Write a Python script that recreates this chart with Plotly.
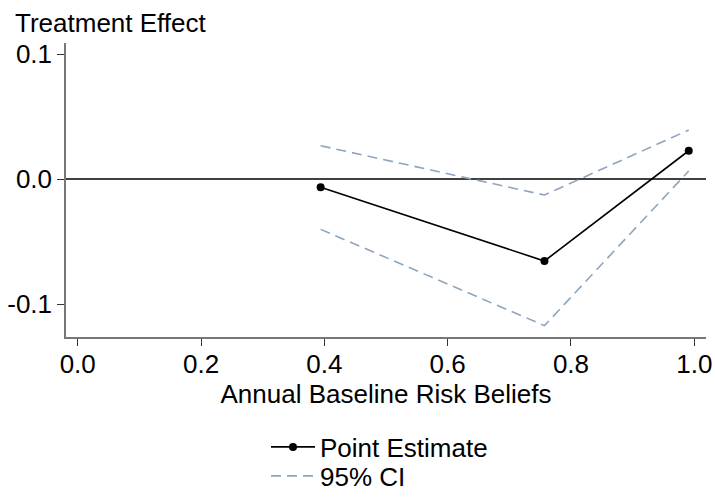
import plotly.graph_objects as go

x_vals = [0.394, 0.757, 0.991]
point_est = [-0.0066, -0.0656, 0.0226]
ci_upper = [0.0266, -0.0128, 0.0392]
ci_lower = [-0.0403, -0.1173, 0.0064]

x_ticks = [0.0, 0.2, 0.4, 0.6, 0.8, 1.0]
x_ticklabels = ["0.0", "0.2", "0.4", "0.6", "0.8", "1.0"]
y_ticks = [-0.1, 0.0, 0.1]
y_ticklabels = ["-0.1", "0.0", "0.1"]

FONT = "Liberation Sans, Arial, sans-serif"
FS = 26
CI_COLOR = "#8ea5bd"

fig = go.Figure()
fig.add_trace(go.Scatter(
    x=x_vals, y=point_est, mode="lines+markers", name="Point Estimate",
    line=dict(color="black", width=1.6), marker=dict(color="black", size=8),
    legend="legend",
))
fig.add_trace(go.Scatter(
    x=x_vals, y=ci_upper, mode="lines", name="95% CI",
    line=dict(color=CI_COLOR, width=1.6, dash="10px,6px"),
    legend="legend2",
))
fig.add_trace(go.Scatter(
    x=x_vals, y=ci_lower, mode="lines", name="95% CI", showlegend=False,
    line=dict(color=CI_COLOR, width=1.6, dash="10px,6px"),
    legend="legend2",
))

fig.add_hline(y=0, line=dict(color="black", width=1.6), layer="below")

legend_common = dict(xref="container", yref="container", xanchor="left", yanchor="middle",
                     font=dict(size=FS), bgcolor="rgba(0,0,0,0)", itemwidth=44)

fig.update_layout(
    width=715, height=498,
    margin=dict(l=66, r=9, t=43, b=161, autoexpand=False),
    paper_bgcolor="white", plot_bgcolor="white",
    font=dict(family=FONT, size=FS, color="black"),
    showlegend=True,
    legend=dict(x=266 / 715, y=1 - 447 / 498, **legend_common),
    legend2=dict(x=266 / 715, y=1 - 476 / 498, **legend_common),
    xaxis=dict(range=[-0.019, 1.019], tickvals=x_ticks, ticktext=x_ticklabels,
               showgrid=False, zeroline=False, showline=True, linecolor="#777777",
               linewidth=1.5, ticks="outside", ticklen=7, tickcolor="#333333",
               tickfont=dict(size=FS), automargin=False, ticklabelstandoff=-4,
               title=dict(text="Annual Baseline Risk Beliefs", font=dict(size=FS), standoff=5)),
    yaxis=dict(range=[-0.1264, 0.1088], tickvals=y_ticks, ticktext=y_ticklabels,
               showgrid=False, zeroline=False, showline=True, linecolor="#777777",
               linewidth=1.5, ticks="outside", ticklen=7, tickcolor="#333333",
               tickfont=dict(size=FS), automargin=False),
    annotations=[dict(text="Treatment Effect", xref="paper", yref="paper",
                      x=-0.0828, y=1.068, xanchor="left", yanchor="middle",
                      showarrow=False, font=dict(size=FS))],
)

fig.write_html("out.html")
